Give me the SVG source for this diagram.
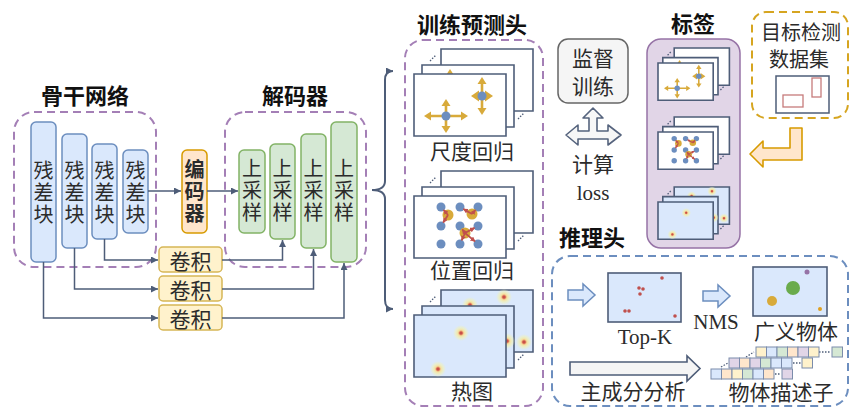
<svg xmlns="http://www.w3.org/2000/svg" xmlns:xlink="http://www.w3.org/1999/xlink" width="850" height="409" viewBox="0 0 850 409">
  <style>
    .t { font-family: "Noto Sans CJK SC", "Noto Sans", sans-serif; font-size: 21px; fill: #2b2b2b; text-anchor: middle; dominant-baseline: central; }
    .v { font-size: 20px; writing-mode: vertical-rl; letter-spacing: 2px; }
    .h { font-size: 22px; font-weight: bold; fill: #111; }
    .en { font-family: "Liberation Serif", serif; font-size: 21px; }
    .blue { fill: #dae8fc; stroke: #6c8ebf; stroke-width: 1.5; }
    .green { fill: #d5e8d4; stroke: #82b366; stroke-width: 1.5; }
    .yellow { fill: #fff2cc; stroke: #d6b656; stroke-width: 1.5; }
    .orange { fill: #ffe6cc; stroke: #d79b00; stroke-width: 1.5; }
    .dashp { fill: none; stroke: #a47fb6; stroke-width: 2; stroke-dasharray: 8 5; }
    .conn { fill: none; stroke: #4e5d78; stroke-width: 1.5; }
    .card { stroke: #4e5d78; stroke-width: 1.6; vector-effect: non-scaling-stroke; }
    .cw { fill: #ffffff; }
    .cb { fill: #dae8fc; }
    .ell { fill: none; stroke: #4e5d78; stroke-width: 1.3; stroke-dasharray: 1.5 1.5; vector-effect: non-scaling-stroke; }
    .gold { fill: #d8aa3a; }
    .gl { stroke: #d8aa3a; stroke-width: 2.6; fill: none; }
    .dot { fill: #6c8ebf; }
    .ra { stroke: #c0504d; stroke-width: 1.8; fill: none; }
    .cell { stroke: #7b8cab; stroke-width: 1; }
  </style>
  <defs>
    <marker id="ah" viewBox="0 0 10 10" refX="10" refY="5" markerWidth="7" markerHeight="7" markerUnits="userSpaceOnUse" orient="auto-start-reverse">
      <path d="M0,0 L10,5 L0,10 z" fill="#4e5d78"/>
    </marker>
    <marker id="rh" viewBox="0 0 10 10" refX="9" refY="5" markerWidth="5" markerHeight="5" markerUnits="userSpaceOnUse" orient="auto">
      <path d="M0,0 L10,5 L0,10 z" fill="#c0504d"/>
    </marker>
    <radialGradient id="halo">
      <stop offset="0" stop-color="#d0504a"/>
      <stop offset="0.22" stop-color="#e8986e"/>
      <stop offset="0.38" stop-color="#f5e2a2"/>
      <stop offset="0.65" stop-color="#eef0bc" stop-opacity="0.75"/>
      <stop offset="1" stop-color="#eef0c0" stop-opacity="0"/>
    </radialGradient>
    <g id="hp">
      <circle r="8" fill="url(#halo)"/>
      <circle r="1.6" fill="#c94f48"/>
    </g>

    <!-- scale regression stack, front card at origin -->
    <g id="scaleStack">
      <rect class="card cw" x="27" y="-25" width="92" height="62"/>
      <path class="ell" d="M16,-13 L22,-19"/>
      <rect class="card cw" x="8" y="-9" width="92" height="62"/>
      <path class="gl" d="M36,1 V20"/>
      <polygon class="gold" points="36,-5 31.5,2 40.5,2"/>
      <path class="ell" d="M104,45 L110,39"/>
      <rect class="card cw" x="0" y="0" width="92" height="62"/>
      <path class="gl" d="M16,42 H48 M32,31 V53"/>
      <polygon class="gold" points="54,42 47,37.5 47,46.5"/>
      <polygon class="gold" points="10,42 17,37.5 17,46.5"/>
      <polygon class="gold" points="32,25 27.5,32 36.5,32"/>
      <polygon class="gold" points="32,59 27.5,52 36.5,52"/>
      <circle class="dot" cx="32" cy="42" r="4.5"/>
      <path class="gl" d="M62,22 H74 M68,9 V35"/>
      <polygon class="gold" points="79,22 71,16.5 71,27.5"/>
      <polygon class="gold" points="57,22 65,16.5 65,27.5"/>
      <polygon class="gold" points="68,3 63.5,10 72.5,10"/>
      <polygon class="gold" points="68,41 63.5,34 72.5,34"/>
      <circle class="dot" cx="68" cy="22" r="4.5"/>
    </g>

    <!-- position regression stack -->
    <g id="posStack">
      <rect class="card cw" x="27" y="-25" width="92" height="62"/>
      <path class="ell" d="M16,-13 L22,-19"/>
      <rect class="card cw" x="8" y="-9" width="92" height="62"/>
      <path class="ell" d="M104,45 L110,39"/>
      <rect class="card cw" x="0" y="0" width="92" height="62"/>
      <g class="dot">
        <circle cx="27" cy="11" r="4.5"/><circle cx="46" cy="11" r="4.5"/><circle cx="64" cy="11" r="4.5"/>
        <circle cx="27" cy="30" r="4.5"/><circle cx="46" cy="30" r="4.5"/><circle cx="64" cy="30" r="4.5"/>
        <circle cx="27" cy="48" r="4.5"/><circle cx="46" cy="48" r="4.5"/><circle cx="64" cy="48" r="4.5"/>
      </g>
      <circle class="gold" cx="34" cy="19" r="5.5"/>
      <circle class="gold" cx="58" cy="18" r="5.5"/>
      <circle class="gold" cx="51" cy="37" r="5.5"/>
      <g class="ra" marker-end="url(#rh)">
        <path d="M34,19 L29.6,14"/>
        <path d="M34,19 L29.2,26.6"/>
        <path d="M58,18 L49.4,13"/>
        <path d="M58,18 L61.4,14"/>
        <path d="M51,37 L48.3,33.3"/>
        <path d="M51,37 L60.5,31.9"/>
        <path d="M51,37 L47.7,44.4"/>
        <path d="M51,37 L61,45.4"/>
      </g>
    </g>

    <!-- heatmap stack -->
    <g id="heatStack">
      <rect class="card cb" x="27" y="-25" width="92" height="62"/>
      <use xlink:href="#hp" x="90" y="-18"/>
      <use xlink:href="#hp" x="110" y="27"/>
      <use xlink:href="#hp" x="56" y="-10"/>
      <path class="ell" d="M16,-13 L22,-19"/>
      <rect class="card cb" x="8" y="-9" width="92" height="62"/>
      <use xlink:href="#hp" x="93" y="26"/>
      <path class="ell" d="M104,45 L110,39"/>
      <rect class="card cb" x="0" y="0" width="92" height="62"/>
      <use xlink:href="#hp" x="47" y="18"/>
      <use xlink:href="#hp" x="24" y="54"/>
    </g>
  </defs>

  <!-- backbone -->
  <g id="backbone">
    <text class="t h" x="85" y="94">骨干网络</text>
    <rect class="dashp" x="14" y="112" width="142" height="155" rx="20"/>
    <rect class="blue" x="31" y="122" width="25" height="140" rx="5"/>
    <rect class="blue" x="62" y="134" width="25" height="114" rx="5"/>
    <rect class="blue" x="92" y="144" width="25" height="95" rx="5"/>
    <rect class="blue" x="123" y="150" width="25" height="83" rx="5"/>
    <text class="t v" x="43.5" y="193">残差块</text>
    <text class="t v" x="74.5" y="193">残差块</text>
    <text class="t v" x="104.5" y="193">残差块</text>
    <text class="t v" x="135.5" y="193">残差块</text>
  </g>

  <!-- encoder -->
  <g id="encoder">
    <rect class="orange" x="182" y="150" width="25" height="83" rx="5"/>
    <text class="t v" x="194.5" y="192" style="font-weight:bold">编码器</text>
  </g>

  <!-- decoder -->
  <g id="decoder">
    <text class="t h" x="295" y="94">解码器</text>
    <rect class="dashp" x="225" y="112" width="141" height="155" rx="20"/>
    <rect class="green" x="239" y="150" width="26" height="83" rx="5"/>
    <rect class="green" x="270" y="144" width="25" height="95" rx="5"/>
    <rect class="green" x="301" y="134" width="25" height="114" rx="5"/>
    <rect class="green" x="331" y="122" width="26" height="140" rx="5"/>
    <text class="t v" x="252" y="191">上采样</text>
    <text class="t v" x="282.5" y="191">上采样</text>
    <text class="t v" x="313.5" y="191">上采样</text>
    <text class="t v" x="344" y="191">上采样</text>
  </g>

  <!-- skip convolutions -->
  <g id="conv1">
    <rect class="yellow" x="159" y="247" width="63" height="25" rx="4"/>
    <text class="t" x="190.5" y="259.5">卷积</text>
  </g>
  <g id="conv2">
    <rect class="yellow" x="159" y="276" width="63" height="25" rx="4"/>
    <text class="t" x="190.5" y="288.5">卷积</text>
  </g>
  <g id="conv3">
    <rect class="yellow" x="159" y="305" width="63" height="25" rx="4"/>
    <text class="t" x="190.5" y="317.5">卷积</text>
  </g>

  <!-- connectors -->
  <g id="connectors">
    <path class="conn" d="M148,191 H181" marker-end="url(#ah)"/>
    <path class="conn" d="M207,191 H238" marker-end="url(#ah)"/>
    <path class="conn" d="M104.5,239 V260 H158" marker-end="url(#ah)"/>
    <path class="conn" d="M222,260 H282.5 V240" marker-end="url(#ah)"/>
    <path class="conn" d="M74.5,248 V289 H158" marker-end="url(#ah)"/>
    <path class="conn" d="M222,289 H313.5 V249" marker-end="url(#ah)"/>
    <path class="conn" d="M43.5,262 V318 H158" marker-end="url(#ah)"/>
    <path class="conn" d="M222,318 H344 V263" marker-end="url(#ah)"/>
    <!-- brace fanning out to the heads -->
    <path class="conn" style="stroke-width:2" d="M393,71 Q385,71 385,80 L385,181 Q385,190 372,190 Q385,190 385,199 L385,300 Q385,309 393,309" marker-start="url(#ah)" marker-end="url(#ah)"/>
  </g>

  <!-- training heads -->
  <g id="trainHeads">
    <text class="t h" x="472" y="23">训练预测头</text>
    <rect class="dashp" x="405" y="40" width="138" height="366" rx="18"/>
    <use xlink:href="#scaleStack" x="414" y="74"/>
    <text class="t" x="472" y="150">尺度回归</text>
    <use xlink:href="#posStack" x="414" y="196"/>
    <text class="t" x="472" y="269">位置回归</text>
    <use xlink:href="#heatStack" x="414" y="315"/>
    <text class="t" x="472" y="390">热图</text>
  </g>

  <!-- supervision -->
  <g id="supervise">
    <rect x="558" y="39" width="70" height="64" rx="10" fill="#f5f5f5" stroke="#666" stroke-width="1.5"/>
    <text class="t"><tspan x="593" y="57">监督</tspan><tspan x="593" y="85">训练</tspan></text>
    <polygon points="593,108 603,118 597,118 597,131 608,131 608,125 621,135 608,145 608,139 578,139 578,145 566,135 578,125 578,131 589,131 589,118 583,118" fill="#f7f7f7" stroke="#56647e" stroke-width="1.6" stroke-linejoin="round"/>
    <text class="t" x="593" y="163">计算</text>
    <text class="t en" x="593" y="193">loss</text>
  </g>

  <!-- labels -->
  <g id="labels">
    <text class="t h" x="693" y="22">标签</text>
    <rect x="647" y="39" width="93" height="209" rx="14" fill="#e1d5e7" stroke="#9673a6" stroke-width="1.5"/>
    <use xlink:href="#scaleStack" transform="translate(658,63) scale(0.6)"/>
    <use xlink:href="#posStack" transform="translate(658,132) scale(0.6)"/>
    <use xlink:href="#heatStack" transform="translate(658,202) scale(0.6)"/>
  </g>

  <!-- dataset -->
  <g id="dataset">
    <rect x="752" y="12" width="96" height="106" rx="14" fill="none" stroke="#d6a520" stroke-width="2" stroke-dasharray="8 5"/>
    <text class="t" style="font-size:20px"><tspan x="801" y="30.5">目标检测</tspan><tspan x="799" y="58">数据集</tspan></text>
    <rect x="776" y="76" width="53" height="37" fill="#fff" stroke="#4e5d78" stroke-width="1.5"/>
    <rect x="783" y="95" width="20" height="12" fill="none" stroke="#c77b7b" stroke-width="1.3"/>
    <rect x="812" y="78" width="9" height="19" fill="none" stroke="#c77b7b" stroke-width="1.3"/>
    <polygon points="790,128 802,128 802,160 763,160 763,167 750,154 763,141 763,148 790,148" fill="#ffe6cc" stroke="#d79b00" stroke-width="1.6" stroke-linejoin="round"/>
  </g>

  <!-- inference head -->
  <g id="inference">
    <text class="t h" x="592" y="236">推理头</text>
    <rect x="552" y="256" width="296" height="150" rx="18" fill="none" stroke="#6c8ebf" stroke-width="2" stroke-dasharray="8 5"/>
    <polygon points="568,290 583,290 583,284 595,295 583,306 583,300 568,300" fill="#dae8fc" stroke="#6c8ebf" stroke-width="1.5"/>
    <rect x="608" y="273" width="73" height="49" fill="#dae8fc" stroke="#4e5d78" stroke-width="1.6"/>
    <g fill="#c0504d">
      <circle cx="662" cy="278" r="1.8"/><circle cx="639" cy="288" r="1.8"/><circle cx="643" cy="289" r="1.8"/>
      <circle cx="640" cy="294" r="1.8"/><circle cx="625" cy="311" r="1.8"/><circle cx="629" cy="311" r="1.8"/>
      <circle cx="675" cy="316" r="1.8"/>
    </g>
    <text class="t en" x="645" y="337">Top-K</text>
    <polygon points="703,291 718,291 718,285 730,296 718,307 718,301 703,301" fill="#dae8fc" stroke="#6c8ebf" stroke-width="1.5"/>
    <text class="t en" x="716" y="322">NMS</text>
    <rect x="753" y="267" width="74" height="49" fill="#dae8fc" stroke="#4e5d78" stroke-width="1.6"/>
    <circle cx="793" cy="288" r="7" fill="#6aab4c"/>
    <circle cx="772" cy="301" r="5" fill="#d8aa3a"/>
    <circle cx="807" cy="272" r="2.5" fill="#9673a6"/>
    <circle cx="820" cy="309" r="2" fill="#e0a020"/>
    <text class="t" x="796" y="330">广义物体</text>
    <polygon points="570,362 687,362 687,356 700,368.5 687,381 687,375 570,375" fill="#f5f5f5" stroke="#4e5d78" stroke-width="1.6"/>
    <text class="t" x="633" y="390">主成分分析</text>
    <!-- descriptor rows -->
    <path class="ell" d="M746,357 L754,352 M819,352 H831 M721,367 L728,363 M793,363 H801 M775,374 H781"/>
    <g class="cell">
      <rect x="756" y="347" width="10.5" height="10" fill="#fff2cc"/>
      <rect x="766.5" y="347" width="10.5" height="10" fill="#dae8fc"/>
      <rect x="777" y="347" width="10.5" height="10" fill="#d5e8d4"/>
      <rect x="787.5" y="347" width="10.5" height="10" fill="#ffe6cc"/>
      <rect x="798" y="347" width="10.5" height="10" fill="#e1d5e7"/>
      <rect x="808.5" y="347" width="10.5" height="10" fill="#fff2cc"/>
      <rect x="832" y="347" width="10.5" height="10" fill="#d5e8d4"/>

      <rect x="729" y="358" width="10.5" height="10" fill="#e1d5e7"/>
      <rect x="739.5" y="358" width="10.5" height="10" fill="#ffe6cc"/>
      <rect x="750" y="358" width="10.5" height="10" fill="#e1d5e7"/>
      <rect x="760.5" y="358" width="10.5" height="10" fill="#d5e8d4"/>
      <rect x="771" y="358" width="10.5" height="10" fill="#dae8fc"/>
      <rect x="781.5" y="358" width="10.5" height="10" fill="#dae8fc"/>
      <rect x="802" y="358" width="10.5" height="10" fill="#fff2cc"/>

      <rect x="711" y="369" width="10.5" height="10" fill="#dae8fc"/>
      <rect x="721.5" y="369" width="10.5" height="10" fill="#ffe6cc"/>
      <rect x="732" y="369" width="10.5" height="10" fill="#fff2cc"/>
      <rect x="742.5" y="369" width="10.5" height="10" fill="#d5e8d4"/>
      <rect x="753" y="369" width="10.5" height="10" fill="#dae8fc"/>
      <rect x="763.5" y="369" width="10.5" height="10" fill="#ffe6cc"/>
      <rect x="782" y="369" width="10.5" height="10" fill="#e1d5e7"/>
    </g>
    <text class="t" x="781" y="391">物体描述子</text>
  </g>
</svg>
